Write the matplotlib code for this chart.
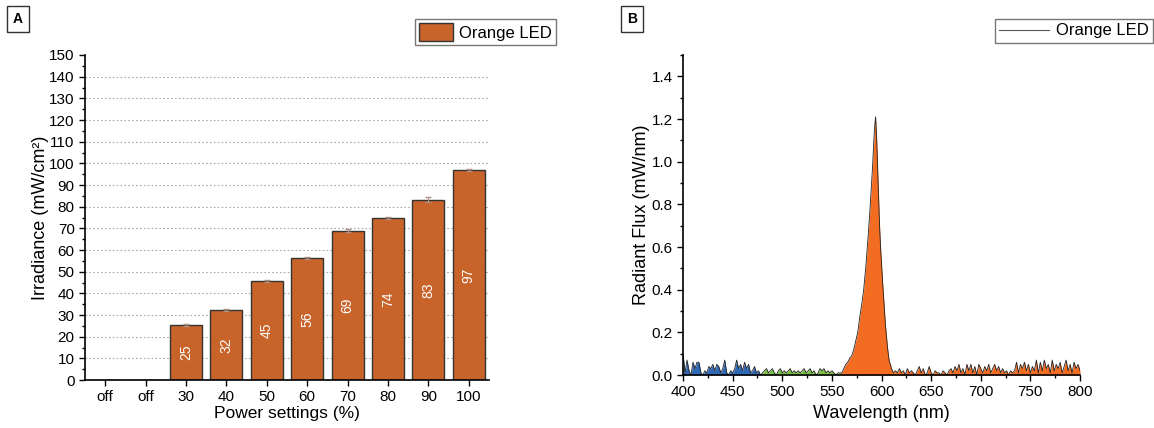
import numpy as np
import matplotlib
matplotlib.use("Agg")
import matplotlib.pyplot as plt
from matplotlib.ticker import MultipleLocator
from matplotlib.patches import Patch
from matplotlib.lines import Line2D

plt.rcParams['font.family'] = ['Liberation Sans', 'DejaVu Sans']

# --- Panel A data ---
power_labels = ['off', 'off', '30', '40', '50', '60', '70', '80', '90', '100']
irradiance = [0, 0, 25.3, 32.3, 45.6, 56.3, 69.0, 74.7, 83.3, 97.0]
irradiance_err = [0, 0, 0.4, 0.5, 0.5, 0.5, 0.8, 0.4, 1.2, 0.6]
bar_text = ['', '', '25', '32', '45', '56', '69', '74', '83', '97']
grid_levels = [10, 20, 30, 40, 50, 60, 70, 80, 90, 100, 110, 120, 130, 140]

# --- Panel B data (2 nm grid for the noise floor) ---
wl_blue = np.arange(400, 481, 2)
flux_blue = [0.10, 0.01, 0.07, 0.02, 0.00, 0.06, 0.03, 0.06, 0.06, 0.01,
             0.00, 0.02, 0.01, 0.04, 0.03, 0.05, 0.02, 0.05, 0.04, 0.01,
             0.03, 0.07, 0.01, 0.00, 0.02, 0.01, 0.03, 0.07, 0.03, 0.05,
             0.02, 0.06, 0.03, 0.05, 0.01, 0.02, 0.04, 0.01, 0.02, 0.00,
             0.01]
wl_green = np.arange(482, 560, 2)
flux_green = [0.02, 0.03, 0.01, 0.02, 0.03, 0.01, 0.00, 0.02, 0.03, 0.01,
              0.02, 0.01, 0.02, 0.03, 0.01, 0.02, 0.01, 0.02, 0.01, 0.02,
              0.03, 0.01, 0.02, 0.03, 0.01, 0.02, 0.00, 0.01, 0.03, 0.02,
              0.03, 0.01, 0.02, 0.01, 0.02, 0.01, 0.00, 0.01, 0.01]
wl_peak = [560, 562, 564, 566, 568, 570, 572, 574, 576, 578, 580, 582, 584,
           586, 588, 590, 591, 592, 593, 594, 595, 596, 597, 598, 599, 600,
           601, 602, 603, 604, 605, 606, 607, 608, 609, 610, 612]
flux_peak = [0.01, 0.03, 0.05, 0.06, 0.08, 0.09, 0.12, 0.16, 0.20, 0.27, 0.33,
             0.40, 0.50, 0.62, 0.75, 0.90, 0.98, 1.08, 1.16, 1.21, 1.12, 0.98,
             0.84, 0.70, 0.60, 0.52, 0.44, 0.37, 0.30, 0.23, 0.18, 0.13, 0.09,
             0.06, 0.05, 0.03, 0.01]
wl_red = np.arange(614, 801, 2)
flux_red = [0.02, 0.01, 0.03, 0.01, 0.02, 0.00, 0.03, 0.01, 0.02, 0.01,
            0.00, 0.02, 0.04, 0.01, 0.03, 0.00, 0.01, 0.04, 0.01, 0.00,
            0.02, 0.01, 0.01, 0.00, 0.02, 0.01, 0.00, 0.02, 0.03, 0.01,
            0.04, 0.02, 0.05, 0.01, 0.03, 0.00, 0.05, 0.02, 0.05, 0.01,
            0.04, 0.00, 0.05, 0.03, 0.01, 0.04, 0.02, 0.05, 0.01, 0.03,
            0.05, 0.02, 0.04, 0.01, 0.03, 0.01, 0.02, 0.00, 0.02, 0.01,
            0.02, 0.06, 0.01, 0.05, 0.03, 0.06, 0.02, 0.05, 0.01, 0.04,
            0.02, 0.07, 0.01, 0.06, 0.02, 0.07, 0.03, 0.05, 0.01, 0.07,
            0.02, 0.05, 0.03, 0.06, 0.01, 0.04, 0.07, 0.02, 0.05, 0.01,
            0.06, 0.03, 0.05, 0.02]

bar_color = '#c8642a'
spec_orange = '#f26c22'
spec_blue = '#2f68b4'
spec_green = '#7cc242'

fig = plt.figure(figsize=(11.54, 4.28), dpi=100)

# ---------------- Panel A ----------------
axA = fig.add_axes([0.0737, 0.1121, 0.350, 0.7594])
x = np.arange(len(power_labels))
for g in grid_levels:
    axA.axhline(g, linestyle=(0, (1.5, 2)), color='#a8a8a8', linewidth=0.8, zorder=0)
axA.bar(x, irradiance, width=0.79, color=bar_color, edgecolor='#333333',
        linewidth=1.0, zorder=2)
mask = np.array(irradiance) > 0
axA.errorbar(x[mask], np.array(irradiance)[mask], yerr=np.array(irradiance_err)[mask],
             fmt='none', ecolor='#b09080', elinewidth=0.8, capsize=2.5, zorder=3)
for xi, h, t in zip(x, irradiance, bar_text):
    if t:
        axA.text(xi, h / 2, t, rotation=90, ha='center', va='center',
                 color='white', fontsize=10, zorder=4)
axA.set_xlim(-0.5, 9.5)
axA.set_ylim(0, 150)
axA.set_xticks(x)
axA.set_xticklabels(power_labels)
axA.yaxis.set_major_locator(MultipleLocator(10))
axA.yaxis.set_minor_locator(MultipleLocator(5))
axA.tick_params(axis='both', which='major', direction='out', length=4,
                width=1.0, labelsize=11)
axA.tick_params(axis='y', which='minor', direction='out', length=2.5, width=1.0)
for s in ['top', 'right']:
    axA.spines[s].set_visible(False)
for s in ['left', 'bottom']:
    axA.spines[s].set_linewidth(1.2)
axA.set_xlabel('Power settings (%)', fontsize=12.5, labelpad=1)
axA.set_ylabel('Irradiance (mW/cm²)', fontsize=13, labelpad=0)

fig.legend(handles=[Patch(facecolor=bar_color, edgecolor='#333333', label='Orange LED')],
           loc='upper right', bbox_to_anchor=(0.482, 0.955), fontsize=12,
           fancybox=False, edgecolor='#777777', framealpha=1, borderaxespad=0,
           handlelength=2.0, handleheight=1.2, borderpad=0.25, handletextpad=0.4)

# ---------------- Panel B ----------------
axB = fig.add_axes([0.5919, 0.1238, 0.344, 0.7477])
wl_all = np.concatenate([wl_blue, wl_green, wl_peak, wl_red])
flux_all = np.concatenate([flux_blue, flux_green, flux_peak, flux_red])
axB.fill_between(wl_all, flux_all, where=wl_all <= 480, color=spec_blue,
                 linewidth=0, interpolate=True)
axB.fill_between(wl_all, flux_all, where=(wl_all >= 480) & (wl_all <= 560),
                 color=spec_green, linewidth=0, interpolate=True)
axB.fill_between(wl_all, flux_all, where=wl_all >= 560, color=spec_orange,
                 linewidth=0, interpolate=True)
axB.plot(wl_all, flux_all, color='#222222', linewidth=0.6)
axB.set_xlim(400, 800)
axB.set_ylim(0, 1.5)
axB.set_yticks(np.arange(0, 1.41, 0.2))
axB.xaxis.set_major_locator(MultipleLocator(50))
axB.xaxis.set_minor_locator(MultipleLocator(25))
axB.yaxis.set_minor_locator(MultipleLocator(0.1))
axB.yaxis.set_major_formatter(matplotlib.ticker.FormatStrFormatter('%.1f'))
axB.tick_params(axis='both', which='major', direction='out', length=4,
                width=1.0, labelsize=11)
axB.tick_params(axis='both', which='minor', direction='out', length=2.5, width=1.0)
for s in ['top', 'right']:
    axB.spines[s].set_visible(False)
for s in ['left', 'bottom']:
    axB.spines[s].set_linewidth(1.2)
axB.set_xlabel('Wavelength (nm)', fontsize=13, labelpad=4)
axB.set_ylabel('Radiant Flux (mW/nm)', fontsize=13, labelpad=1)

fig.legend(handles=[Line2D([0], [0], color='#555555', linewidth=0.8, label='Orange LED')],
           loc='upper right', bbox_to_anchor=(0.999, 0.955), fontsize=12,
           fancybox=False, edgecolor='#777777', framealpha=1, borderaxespad=0,
           handlelength=3.0, borderpad=0.25, handletextpad=0.4)

# panel letters
box = dict(boxstyle='square,pad=0.45', facecolor='white', edgecolor='#333333', linewidth=1.0)
fig.text(18 / 1154, 1 - 19 / 428, 'A', ha='center', va='center', fontsize=10,
         fontweight='bold', bbox=box)
fig.text(632 / 1154, 1 - 19 / 428, 'B', ha='center', va='center', fontsize=10,
         fontweight='bold', bbox=box)

fig.savefig('out.png', dpi=100)
